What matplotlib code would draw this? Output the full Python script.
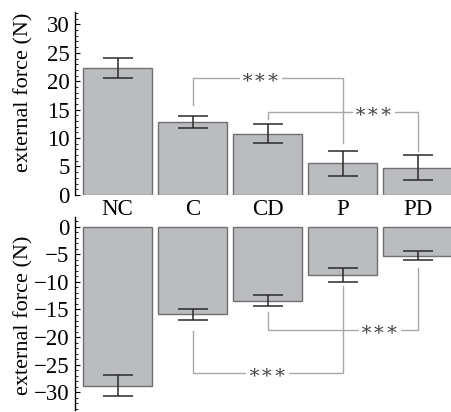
import matplotlib
matplotlib.use("Agg")
import matplotlib.pyplot as plt
from matplotlib.ticker import MultipleLocator

# --- data ---
groups = ["NC", "C", "CD", "P", "PD"]
push_mean = [22.4, 12.8, 10.8, 5.6, 4.8]
push_err = [1.75, 1.1, 1.6, 2.2, 2.15]
pull_mean = [-28.8, -15.9, -13.4, -8.7, -5.25]
pull_err = [1.9, 1.0, 1.0, 1.25, 0.75]

# significance brackets: (from idx, to idx, start y, bar y, end y, label x)
push_sig = [(1, 3, 15.8, 20.6, 9.1, 1.91),
            (2, 4, 13.3, 14.6, 7.8, 3.42)]
pull_sig = [(1, 3, -18.9, -26.5, -10.8, 2.0),
            (2, 4, -15.5, -18.75, -7.4, 3.5)]

FILL = "#bbbcc0"
EDGE = "#707070"
ERR = "#2a2a2a"
SIG = "#a8a8a8"

plt.rcParams["font.family"] = ["Liberation Serif", "DejaVu Serif"]

fig = plt.figure(figsize=(4.52, 4.12), dpi=100)
ax_top = fig.add_axes([0.166, 0.527, 0.834, 0.444])
ax_bot = fig.add_axes([0.166, 0.005, 0.834, 0.469])

x = range(len(groups))


def draw_panel(ax, means, errs, sigs, ylim, label_y):
    ax.bar(x, means, width=0.92, color=FILL, edgecolor=EDGE, linewidth=1.0,
           zorder=2)
    ax.errorbar(x, means, yerr=errs, fmt="none", ecolor=ERR, elinewidth=1.1,
                capsize=11, capthick=1.1, zorder=3)
    for i, j, y0, yb, y1, lx in sigs:
        ax.plot([i, i, j, j], [y0, yb, yb, y1], color=SIG, lw=1.0, zorder=1,
                solid_joinstyle="miter")
        ax.text(lx, yb, "∗∗∗", ha="center", va="center", fontsize=14,
                color="#444444", zorder=4,
                bbox=dict(facecolor="white", edgecolor="none", pad=1.0))
    ax.set_xlim(-0.567, 4.46)
    ax.set_ylim(*ylim)
    for side in ("top", "right", "bottom"):
        ax.spines[side].set_visible(False)
    ax.spines["left"].set_linewidth(1.0)
    ax.yaxis.set_major_locator(MultipleLocator(5))
    ax.yaxis.set_minor_locator(MultipleLocator(1))
    ax.tick_params(axis="y", which="major", direction="in", length=3.5,
                   width=0.8, labelsize=16.5, pad=4)
    ax.tick_params(axis="y", which="minor", direction="in", length=1.8,
                   width=0.6)
    ax.set_ylabel("external force (N)", fontsize=16)
    ax.yaxis.set_label_coords(-0.11, label_y)


draw_panel(ax_top, push_mean, push_err, push_sig, (0, 32.2), 0.56)
draw_panel(ax_bot, pull_mean, pull_err, pull_sig, (-33.2, 1.8), 0.49)

ax_top.set_xticks(list(x))
ax_top.set_xticklabels(groups, fontsize=16.5)
ax_top.tick_params(axis="x", length=0, pad=3)
ax_bot.set_xticks([])

# minus signs as proper dashes
bot_ticks = [0, -5, -10, -15, -20, -25, -30]
ax_bot.set_yticks(bot_ticks)
ax_bot.set_yticklabels(["0"] + ["\u2212%d" % -v for v in bot_ticks[1:]])

fig.savefig("out.png", dpi=100)
